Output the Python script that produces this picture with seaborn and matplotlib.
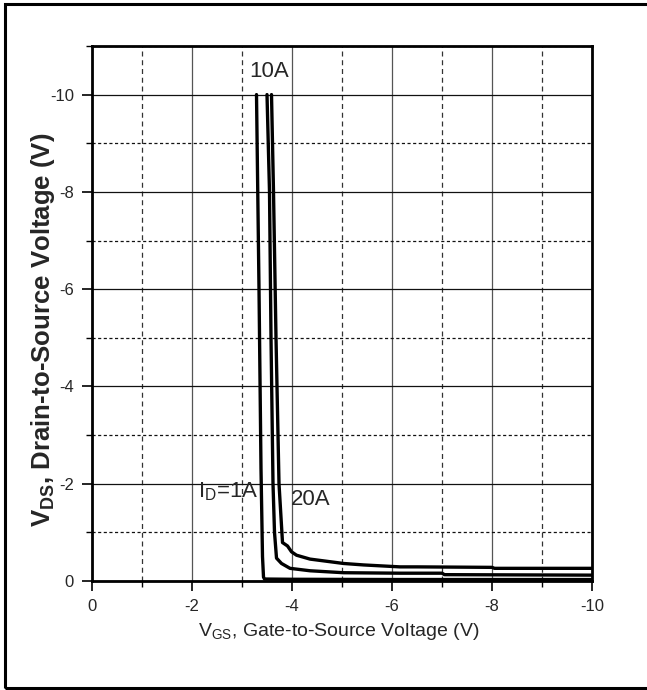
import matplotlib
matplotlib.use('Agg')
import matplotlib.pyplot as plt
import seaborn as sns
import pandas as pd
import numpy as np
from matplotlib.ticker import MultipleLocator

# curve data (V_GS, V_DS)
vgs_1a = [-3.29, -3.34, -3.38, -3.41, -3.43, -3.45, -4.0, -6.0, -8.0, -10.0]
vds_1a = [-10.0, -6.0, -2.3, -0.5, -0.08, -0.04, -0.035, -0.03, -0.03, -0.03]

vgs_10a = [-3.50, -3.55, -3.58, -3.62, -3.65, -3.69, -3.79, -3.96, -4.36, -5.03, -6.16, -7.0, -7.05, -10.0]
vds_10a = [-10.0, -8.0, -5.0, -2.0, -1.0, -0.47, -0.36, -0.26, -0.21, -0.17, -0.16, -0.16, -0.13, -0.12]

vgs_20a = [-3.59, -3.63, -3.68, -3.74, -3.81, -3.91, -3.99, -4.09, -4.36, -5.03, -5.43, -6.16, -6.5, -8.0, -8.05, -10.0]
vds_20a = [-10.0, -8.0, -5.0, -2.0, -0.79, -0.72, -0.60, -0.53, -0.45, -0.36, -0.33, -0.29, -0.29, -0.28, -0.26, -0.26]

curve_labels = [r'I$\mathregular{_D}$=1A', '10A', '20A']
label_x = [-3.32, -3.54, -3.98]
label_y = [-1.83, -10.47, -1.67]
label_ha = ['right', 'center', 'left']

frames = []
for name, xs, ys in [('1A', vgs_1a, vds_1a), ('10A', vgs_10a, vds_10a), ('20A', vgs_20a, vds_20a)]:
    frames.append(pd.DataFrame({'VGS': xs, 'VDS': ys, 'ID': name}))
df = pd.concat(frames, ignore_index=True)

sns.set_style('white')
plt.rcParams['font.family'] = ['Liberation Sans', 'DejaVu Sans']

fig = plt.figure(figsize=(6.47, 6.90), dpi=100)
ax = fig.add_axes([0.1422, 0.158, 0.7728, 0.7754])

sns.lineplot(data=df, x='VGS', y='VDS', units='ID', estimator=None, sort=False,
             color='black', linewidth=2.4, ax=ax, legend=False)

ax.set_xlim(0, -10)
ax.set_ylim(0, -11)
ax.xaxis.set_minor_locator(MultipleLocator(1))
ax.yaxis.set_minor_locator(MultipleLocator(1))
ax.set_xticks([0, -2, -4, -6, -8, -10])
ax.set_yticks([0, -2, -4, -6, -8, -10])
ax.set_xticklabels(['0', '-2', '-4', '-6', '-8', '-10'])
ax.set_yticklabels(['0', '-2', '-4', '-6', '-8', '-10'])

# grid: solid at even, dashed/dotted at odd
ax.grid(True, which='major', axis='x', color='#555555', linewidth=0.9, linestyle='-')
ax.grid(True, which='minor', axis='x', color='#333333', linewidth=0.9, linestyle=(0, (4, 3)))
ax.grid(True, which='major', axis='y', color='#111111', linewidth=0.9, linestyle='-')
ax.grid(True, which='minor', axis='y', color='#111111', linewidth=0.9, linestyle=(0, (2.5, 2)))
ax.set_axisbelow(True)

ax.tick_params(which='major', direction='out', length=7, width=1.2, color='black',
               labelsize=12, pad=6, bottom=True, left=True)
ax.tick_params(which='minor', direction='out', length=4, width=1.0, color='black',
               bottom=True, left=True)

for side in ['left', 'bottom', 'top', 'right']:
    ax.spines[side].set_visible(True)
    ax.spines[side].set_color('black')
    ax.spines[side].set_linewidth(2.0)

ax.set_xlabel(r'V$\mathregular{_{GS}}$, Gate-to-Source Voltage (V)', fontsize=14)
ax.set_ylabel(r'V$\mathregular{_{DS}}$, Drain-to-Source Voltage (V)', fontsize=18.5, fontweight='bold')
ax.xaxis.set_label_coords(0.494, -0.075)
ax.yaxis.set_label_coords(-0.07, 0.469)

for txt, lx, ly, ha in zip(curve_labels, label_x, label_y, label_ha):
    ax.text(lx, ly, txt, fontsize=16, ha=ha, va='center')

# outer frame of the figure
fig.add_artist(plt.Rectangle((5 / 647, 1 - 688 / 690), 1.0, (688 - 4) / 690,
                             transform=fig.transFigure, fill=False,
                             edgecolor='black', linewidth=2.2))

fig.savefig('out.png', dpi=100)
